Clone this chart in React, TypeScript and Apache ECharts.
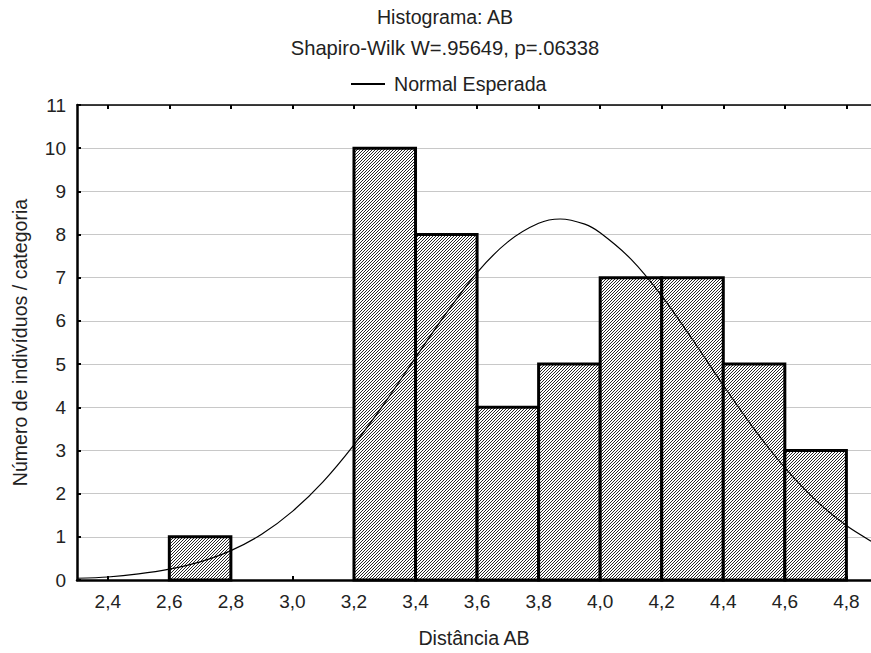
import React, { useEffect, useRef } from "react";
import * as echarts from "echarts";

// Histogram bins (Distância AB) and counts
const binStarts = [2.6, 3.2, 3.4, 3.6, 3.8, 4.0, 4.2, 4.4, 4.6];
const binEnds = [2.8, 3.4, 3.6, 3.8, 4.0, 4.2, 4.4, 4.6, 4.8];
const counts = [1, 10, 8, 4, 5, 7, 7, 5, 3];

// Expected normal curve
const curveX = [2.3, 2.4, 2.5, 2.6, 2.7, 2.8, 2.9, 3.0, 3.1, 3.2, 3.3, 3.4, 3.5, 3.6, 3.7, 3.8, 3.87, 3.95, 4.0, 4.1, 4.2, 4.3, 4.4, 4.5, 4.6, 4.7, 4.8, 4.88];
const curveY = [0.04, 0.07, 0.14, 0.25, 0.42, 0.68, 1.06, 1.59, 2.28, 3.13, 4.1, 5.15, 6.18, 7.12, 7.83, 8.26, 8.36, 8.24, 8.04, 7.43, 6.58, 5.57, 4.51, 3.5, 2.6, 1.85, 1.26, 0.9];

// Axis tick labels
const xTicks = [2.4, 2.6, 2.8, 3.0, 3.2, 3.4, 3.6, 3.8, 4.0, 4.2, 4.4, 4.6, 4.8];
const yTicks = [0, 1, 2, 3, 4, 5, 6, 7, 8, 9, 10, 11];

const titleText = "Histograma: AB";
const subtitleText = "Shapiro-Wilk W=.95649, p=.06338";
const legendName = "Normal Esperada";
const xName = "Distância AB";
const yName = "Número de indivíduos / categoria";

const FONT = "'Liberation Sans', Arial, sans-serif";
const FS = 19;
const FS_T = 19.6;

const hatchSvg =
  "<svg xmlns='http://www.w3.org/2000/svg' width='3' height='3'>" +
  "<rect width='3' height='3' fill='white'/>" +
  "<path d='M-1,1 L1,-1 M0,3 L3,0 M2,4 L4,2' stroke='black' stroke-width='0.85' />" +
  "</svg>";
const hatchUrl = "data:image/svg+xml;charset=utf-8," + encodeURIComponent(hatchSvg);

export default function App() {
  const ref = useRef<HTMLDivElement>(null);

  useEffect(() => {
    if (!ref.current) return;
    const chart = echarts.init(ref.current, null, { renderer: "svg" });
    const pattern: any = { image: hatchUrl, repeat: "repeat", imageWidth: 3, imageHeight: 3 };

    const binData = binStarts.map((s, i) => [s, binEnds[i], counts[i]]);
    const curveData = curveX.map((x, i) => [x, curveY[i]]);
    const fmt = (v: number) => v.toFixed(1).replace(".", ",");

    const option: any = {
      animation: false,
      textStyle: { fontFamily: FONT },
      grid: { left: 77, top: 105, right: 0, bottom: 73, containLabel: false },
      graphic: [
        {
          type: "text",
          x: 445,
          y: 17,
          style: { text: titleText, font: `${FS_T}px ${FONT}`, fill: "#222", textAlign: "center", textVerticalAlign: "middle" },
        },
        {
          type: "text",
          x: 445,
          y: 48,
          style: { text: subtitleText, font: `${FS_T + 0.6}px ${FONT}`, fill: "#222", textAlign: "center", textVerticalAlign: "middle" },
        },
      ],
      legend: {
        data: [legendName],
        left: 346,
        top: 69,
        itemWidth: 34,
        itemHeight: 20,
        icon: "path://M0,0 L34,0 L34,2 L0,2 Z",
        itemStyle: { color: "#000" },
        textStyle: { fontSize: FS_T, color: "#222", fontFamily: FONT, padding: [0, 0, 0, 4] },
      },
      xAxis: [
        {
          type: "value",
          min: 2.3,
          max: 4.88,
          name: xName,
          nameLocation: "middle",
          nameGap: 48,
          nameTextStyle: { fontSize: FS_T, color: "#222", fontFamily: FONT },
          axisLine: { show: true, onZero: false, lineStyle: { color: "#000", width: 2.5 } },
          axisTick: { show: true, inside: true, length: 4, customValues: xTicks, lineStyle: { color: "#000", width: 2 } },
          axisLabel: { customValues: xTicks, formatter: fmt, fontSize: FS, color: "#222", margin: 12, fontFamily: FONT },
          splitLine: { show: false },
        },
        {
          type: "value",
          position: "top",
          min: 2.3,
          max: 4.88,
          axisLine: { show: true, onZero: false, lineStyle: { color: "#000", width: 1.5 } },
          axisTick: { show: true, inside: true, length: 4, customValues: xTicks, lineStyle: { color: "#000", width: 2 } },
          axisLabel: { show: false },
          splitLine: { show: false },
        },
      ],
      yAxis: {
        type: "value",
        min: 0,
        max: 11,
        interval: 1,
        name: yName,
        nameLocation: "middle",
        nameRotate: 90,
        nameGap: 47,
        nameTextStyle: { fontSize: FS_T, color: "#222", fontFamily: FONT },
        axisLine: { show: true, lineStyle: { color: "#000", width: 2.5 } },
        axisTick: { show: true, inside: true, length: 4, customValues: yTicks, lineStyle: { color: "#000", width: 2 } },
        axisLabel: { fontSize: FS, color: "#222", margin: 11, fontFamily: FONT },
        splitLine: { show: true, lineStyle: { color: "#c8c8c8", width: 1 } },
      },
      series: [
        {
          type: "custom",
          name: "Histograma",
          xAxisIndex: 0,
          yAxisIndex: 0,
          data: binData,
          encode: { x: [0, 1], y: 2 },
          renderItem: (params: any, api: any) => {
            const p0 = api.coord([api.value(0), api.value(2)]);
            const p1 = api.coord([api.value(1), 0]);
            return {
              type: "rect",
              shape: { x: p0[0], y: p0[1], width: p1[0] - p0[0], height: p1[1] - p0[1] },
              style: { fill: pattern, stroke: "#000", lineWidth: 3 },
            };
          },
          z: 2,
        },
        {
          type: "line",
          name: legendName,
          xAxisIndex: 0,
          yAxisIndex: 0,
          data: curveData,
          smooth: 0.3,
          showSymbol: false,
          symbol: "none",
          lineStyle: { color: "#000", width: 1.2 },
          itemStyle: { color: "#000" },
          z: 3,
        },
      ],
    };
    chart.setOption(option);
    return () => chart.dispose();
  }, []);

  return <div ref={ref} style={{ width: 871, height: 653, position: "absolute", left: 0, top: 0 }} />;
}
